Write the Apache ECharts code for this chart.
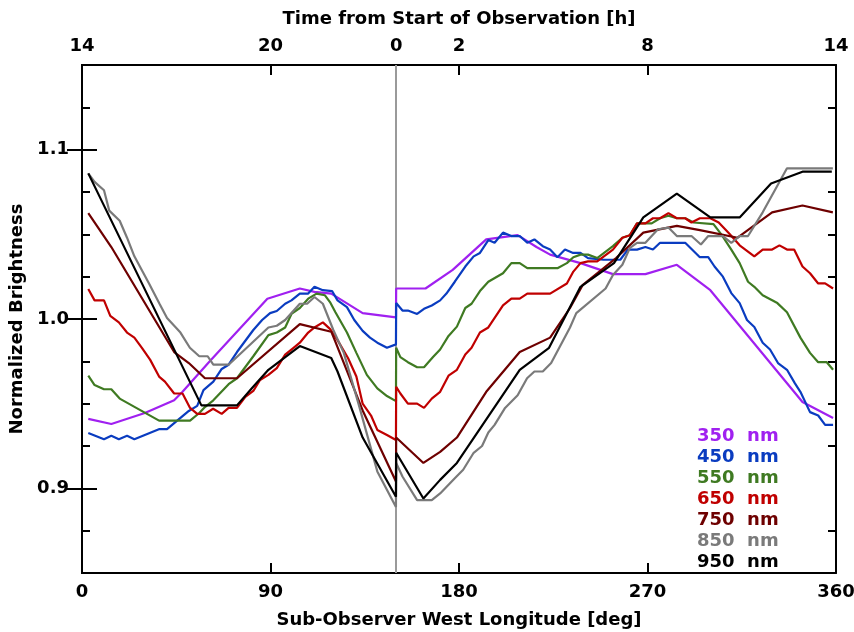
<!DOCTYPE html>
<html lang="en">
<head>
    <meta charset="utf-8">
    <title>Normalized Brightness</title>
    <script src="https://cdn.jsdelivr.net/npm/echarts@6/dist/echarts.min.js"></script>
    <style>
        html, body { margin: 0; padding: 0; background: #fff; }
        #chart1 { width: 854px; height: 632px; }
    </style>
</head>
<body>
<div id="chart1"></div>
<script type="text/javascript">
    // [longitude deg, normalized brightness]
    var nm350 = [[3,0.941],[14,0.938],[30,0.9445],[44,0.952],[48,0.957],[61,0.975],[88.5,1.012],[104,1.018],[111,1.016],[119,1.015],[134,1.0035],[149.9,1.001],[150,1.018],[164,1.018],[177,1.029],[193,1.047],[208,1.0495],[217,1.0425],[223.5,1.038],[238,1.033],[253.5,1.0265],[269,1.0265],[284,1.032],[300,1.017],[344,0.951],[358.6,0.9415]];
    var nm450 = [[3,0.9327],[10.5,0.929],[14,0.931],[17.6,0.929],[21.5,0.931],[25,0.929],[37,0.935],[40.6,0.935],[51,0.9457],[55,0.9487],[58,0.958],[62.7,0.963],[66.7,0.9705],[70,0.973],[74,0.9805],[81.8,0.9935],[86,0.9994],[89.8,1.0035],[93,1.0047],[97,1.009],[100,1.011],[104,1.015],[108,1.015],[111,1.019],[115,1.017],[119.4,1.0165],[122,1.011],[126.5,1.007],[130,0.9994],[134,0.993],[137.5,0.989],[141,0.986],[145.6,0.983],[149.9,0.985],[150,1.0094],[153,1.005],[155.6,1.005],[160,1.003],[163.3,1.006],[167,1.008],[171,1.011],[174,1.015],[178,1.022],[183,1.031],[187,1.037],[190,1.039],[194,1.0466],[197,1.045],[201,1.051],[205,1.049],[209,1.049],[212.6,1.045],[216,1.047],[220,1.043],[223.5,1.041],[227,1.0365],[230.6,1.041],[234.5,1.039],[238,1.039],[241.6,1.036],[249,1.035],[257,1.035],[260.6,1.041],[265,1.041],[269,1.0425],[272.6,1.041],[276,1.045],[288,1.045],[295,1.0365],[299,1.0365],[302,1.031],[306,1.025],[310,1.0153],[314,1.0094],[317.5,0.9994],[321,0.9953],[325,0.986],[328.5,0.982],[332.3,0.974],[336.6,0.970],[340.4,0.962],[343,0.957],[347.6,0.945],[351.5,0.943],[354.8,0.9375],[358.6,0.9375]];
    var nm550 = [[3,0.9665],[6,0.961],[10.5,0.9585],[14,0.9585],[18,0.953],[36.8,0.940],[51.6,0.940],[56,0.9445],[58.7,0.948],[62.7,0.952],[70,0.9615],[74,0.965],[81.8,0.978],[89,0.9905],[93,0.992],[97,0.995],[100,1.003],[104,1.0065],[108,1.012],[112,1.015],[116,1.014],[118.4,1.010],[121,1.004],[126.5,0.992],[131,0.980],[136,0.967],[141,0.959],[145.6,0.9545],[149.9,0.9515],[150,0.983],[152,0.9775],[155.6,0.9745],[160,0.9715],[163.3,0.9715],[167.6,0.9775],[171,0.982],[175,0.990],[179,0.9955],[183,1.0065],[186,1.009],[190,1.0165],[194,1.022],[201,1.027],[205,1.033],[209,1.033],[212.6,1.030],[227,1.030],[231.5,1.033],[234.6,1.0365],[238,1.038],[241.6,1.038],[246,1.036],[253.5,1.043],[258,1.048],[261.6,1.0495],[265,1.0565],[272,1.0565],[276,1.0595],[280,1.061],[284,1.0595],[288,1.0595],[292,1.057],[301.5,1.056],[305.5,1.0495],[310,1.041],[314,1.033],[318,1.022],[321,1.019],[325,1.014],[332,1.0094],[336.6,1.004],[343,0.989],[347.6,0.980],[351.5,0.9745],[355.6,0.9745],[358.6,0.970]];
    var nm650 = [[3,1.0177],[6,1.011],[10.5,1.011],[13.5,1.0018],[17.6,0.998],[21.5,0.992],[25,0.989],[28.6,0.983],[32.5,0.976],[36.8,0.966],[39.6,0.963],[44,0.956],[48,0.956],[51.6,0.9475],[55,0.944],[58.7,0.944],[62.6,0.947],[66.7,0.944],[70,0.9475],[74,0.9475],[78,0.954],[81.8,0.9575],[85,0.964],[89,0.967],[93,0.971],[97,0.979],[101,0.983],[104,0.986],[108,0.992],[111,0.995],[115,0.998],[118.5,0.994],[122,0.9875],[127,0.977],[131,0.966],[134,0.950],[138,0.943],[141,0.9345],[145.6,0.9315],[149.9,0.9285],[150,0.960],[152,0.956],[155.6,0.950],[160,0.950],[163.3,0.9475],[167,0.953],[171,0.957],[175,0.9665],[179,0.970],[183,0.979],[186,0.983],[190,0.992],[194,0.995],[201,1.008],[205,1.012],[209,1.012],[212.6,1.015],[223.5,1.015],[231.5,1.021],[234.6,1.028],[238,1.033],[241.6,1.034],[246,1.034],[253.5,1.041],[258,1.048],[261.6,1.0495],[265,1.0565],[269,1.0565],[272.6,1.0595],[276,1.0595],[280,1.0625],[284,1.0595],[288,1.0595],[291,1.057],[295,1.0595],[300,1.0595],[304,1.057],[309,1.0505],[314,1.0435],[321,1.037],[325,1.041],[329.5,1.041],[333,1.0435],[336.6,1.041],[340,1.041],[344,1.031],[347.6,1.027],[351.5,1.021],[354.8,1.021],[358.6,1.018]];
    var nm750 = [[3,1.0625],[14,1.0425],[44,0.9805],[51,0.974],[58.7,0.965],[74,0.965],[104,0.997],[119,0.9925],[121,0.9865],[134,0.946],[149.9,0.904],[150,0.930],[163,0.915],[171,0.9215],[179,0.930],[193,0.957],[209,0.9805],[223.5,0.989],[233,1.0065],[239,1.020],[255,1.036],[268,1.051],[284,1.055],[295,1.0525],[313,1.048],[329.5,1.063],[344,1.067],[358.5,1.063]];
    var nm850 = [[3,1.086],[6,1.081],[10.5,1.076],[13,1.064],[18,1.058],[21.5,1.048],[25,1.037],[32,1.021],[37,1.009],[40.6,1.0006],[47,0.992],[51.5,0.983],[56,0.978],[60,0.978],[62.7,0.973],[70,0.973],[89,0.995],[93,0.996],[97,0.9994],[104,1.009],[107.5,1.009],[111,1.013],[115,1.009],[120,0.9935],[125,0.980],[132,0.950],[141,0.910],[149.9,0.889],[150,0.915],[153,0.907],[160,0.893],[167,0.893],[171,0.897],[178,0.906],[182,0.911],[187,0.921],[191,0.925],[194,0.933],[197,0.9375],[202,0.9475],[208,0.955],[212.5,0.965],[216,0.969],[220,0.969],[224,0.974],[233,0.995],[236,1.0035],[250,1.018],[253.5,1.026],[258,1.032],[261.6,1.042],[265,1.045],[269,1.045],[275,1.053],[280,1.054],[284,1.049],[291,1.049],[295.5,1.044],[299,1.049],[306,1.049],[310,1.045],[314,1.049],[318,1.049],[325,1.063],[336.6,1.089],[358.5,1.089]];
    var nm950 = [[3,1.086],[57,0.949],[74,0.949],[81,0.959],[89,0.970],[104,0.984],[119,0.977],[122,0.969],[134,0.930],[149.9,0.895],[150,0.921],[163,0.894],[171,0.905],[179,0.915],[209,0.970],[223,0.983],[238,1.019],[254,1.033],[268,1.060],[284,1.074],[300,1.060],[314,1.060],[329,1.080],[344,1.087],[358,1.087]];

    var names = ['350  nm','450  nm','550  nm','650  nm','750  nm','850  nm','950  nm'];
    var colors = ['#a020f0','#0a3cc0','#3f7a22','#c00000','#6e0000','#7a7a7a','#000000'];
    var allData = [nm350, nm450, nm550, nm650, nm750, nm850, nm950];

    var lonTicks = [0, 90, 180, 270, 360];
    var hourLabelLon = [0, 90, 150, 180, 270, 360];
    var majorY = [0.9, 1.0, 1.1];
    var minorY = [0.875, 0.925, 0.95, 0.975, 1.025, 1.05, 1.075, 1.125];
    var obsStart = 150;

    var font = 'DejaVu Sans';
    var txt = {color: '#000', fontFamily: font, fontSize: 18, fontWeight: 'bold'};

    function yAxisDef(pos, ticks, len, labels) {
        return {
            type: 'value', position: pos, min: 0.85, max: 1.15,
            axisLine: {show: true, lineStyle: {color: '#000', width: 2}},
            axisTick: {show: true, inside: true, length: len, customValues: ticks, lineStyle: {color: '#000', width: 2}},
            axisLabel: labels ? {show: true, customValues: majorY, margin: 13, formatter: function (v) { return v.toFixed(1); }, color: '#000', fontFamily: font, fontSize: 18, fontWeight: 'bold'} : {show: false},
            splitLine: {show: false}
        };
    }

    var myChart = echarts.init(document.getElementById('chart1'));

    var series = [{
        type: 'line', data: [], xAxisIndex: 0, yAxisIndex: 0, silent: true, z: 1,
        markLine: {
            symbol: 'none', silent: true, label: {show: false}, z: 1,
            lineStyle: {color: '#9a9a9a', width: 2, type: 'solid'},
            data: [{xAxis: obsStart}]
        }
    }];
    allData.forEach(function (d, i) {
        series.push({
            name: names[i], type: 'line', data: d, xAxisIndex: 0, yAxisIndex: 0, z: 3,
            symbol: 'none', lineStyle: {color: colors[i], width: 2.2}, itemStyle: {color: colors[i]}
        });
    });

    myChart.setOption({
        animation: false,
        backgroundColor: '#fff',
        grid: {left: 82, right: 18, top: 65, bottom: 59, containLabel: false, outerBoundsMode: 'none'},
        legend: {
            orient: 'vertical', left: 687, top: 421, itemWidth: 0, itemHeight: 0, itemGap: 0,
            icon: 'rect', selectedMode: false,
            data: names.map(function (n, i) {
                return {name: n, itemStyle: {opacity: 0}, textStyle: {color: colors[i], fontFamily: font, fontSize: 18, fontWeight: 'bold', lineHeight: 21}};
            })
        },
        xAxis: [{
            type: 'value', position: 'bottom', min: 0, max: 360,
            name: 'Sub-Observer West Longitude [deg]', nameLocation: 'middle', nameGap: 38,
            nameTextStyle: txt,
            axisLine: {show: true, lineStyle: {color: '#000', width: 2}},
            axisTick: {show: true, inside: true, length: 10, customValues: lonTicks, lineStyle: {color: '#000', width: 2}},
            axisLabel: {customValues: lonTicks, margin: 10, color: '#000', fontFamily: font, fontSize: 18, fontWeight: 'bold'},
            splitLine: {show: false}
        }, {
            type: 'value', position: 'top', min: 0, max: 360,
            name: 'Time from Start of Observation [h]', nameLocation: 'middle', nameGap: 37,
            nameTextStyle: txt,
            axisLine: {show: true, lineStyle: {color: '#000', width: 2}},
            axisTick: {show: true, inside: true, length: 10, customValues: lonTicks, lineStyle: {color: '#000', width: 2}},
            axisLabel: {
                customValues: hourLabelLon, margin: 10, color: '#000', fontFamily: font, fontSize: 18, fontWeight: 'bold',
                formatter: function (v) { return String(Math.round(((v - obsStart) / 15 + 24) % 24)); }
            },
            splitLine: {show: false}
        }],
        yAxis: [
            Object.assign(yAxisDef('left', majorY, 15, true), {
                name: 'Normalized Brightness', nameLocation: 'middle', nameGap: 55, nameTextStyle: txt
            }),
            yAxisDef('right', majorY, 15, false),
            yAxisDef('left', minorY, 8, false),
            yAxisDef('right', minorY, 8, false)
        ],
        series: series
    });
</script>
</body>
</html>
